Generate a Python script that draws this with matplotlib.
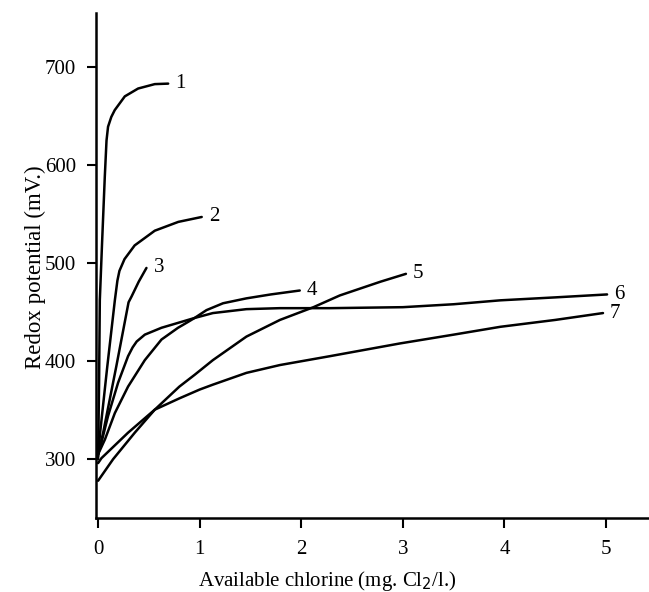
import matplotlib
matplotlib.use("Agg")
import matplotlib.pyplot as plt

plt.rcParams['font.family'] = ['Liberation Serif', 'DejaVu Serif']

# curves: available chlorine (mg Cl2/l) vs redox potential (mV)
x1 = [0, 0.01, 0.017, 0.039, 0.066, 0.083, 0.098, 0.13, 0.164, 0.263, 0.394, 0.558, 0.69]
y1 = [300, 380, 462, 520, 588, 625, 639, 649, 656, 670, 678, 682.5, 683]

x2 = [0, 0.02, 0.09, 0.165, 0.19, 0.21, 0.26, 0.36, 0.558, 0.79, 1.02]
y2 = [303, 327, 394, 462, 482, 492, 504, 518, 533, 542, 547]

x3 = [0, 0.05, 0.18, 0.3, 0.33, 0.40, 0.476]
y3 = [305, 327, 395, 460, 466, 481, 495]

x4 = [0, 0.067, 0.165, 0.295, 0.46, 0.624, 0.787, 0.886, 0.95, 1.067, 1.23, 1.46, 1.7, 1.985]
y4 = [305, 320, 347, 374, 401, 422, 434, 440, 444, 452, 459, 464, 468, 472]

x5 = [0, 0.148, 0.361, 0.558, 0.80, 0.95, 1.13, 1.46, 1.79, 2.12, 2.38, 2.78, 3.03]
y5 = [278, 300, 327, 350.5, 374, 386, 401, 425, 442, 455, 467, 481, 489]

x6 = [0, 0.033, 0.098, 0.197, 0.295, 0.34, 0.38, 0.46, 0.624, 0.787, 0.95, 1.13, 1.46, 1.79,
      2.28, 3.0, 3.5, 3.96, 4.5, 5.01]
y6 = [305, 317, 344, 378, 405, 414, 420, 427, 434, 439, 444, 449, 453, 454,
      454, 455, 458, 462, 465, 468]

x7 = [0, 0.033, 0.295, 0.558, 0.80, 1.0, 1.13, 1.46, 1.79, 2.28, 2.97, 3.5, 3.96, 4.5, 4.97]
y7 = [296, 301, 327, 350.5, 362, 371, 376, 388, 396, 405, 418, 427, 435, 442, 449]

curves = [(x1, y1), (x2, y2), (x3, y3), (x4, y4), (x5, y5), (x6, y6), (x7, y7)]
curve_labels = ["1", "2", "3", "4", "5", "6", "7"]

xticks = [0, 1, 2, 3, 4, 5]
yticks = [300, 400, 500, 600, 700]

fig = plt.figure(figsize=(6.49, 5.92), dpi=100)
ax = fig.add_axes([0.148, 0.125, 0.85, 0.853])

for (xs, ys), lab in zip(curves, curve_labels):
    ax.plot(xs, ys, color="black", lw=1.8, solid_capstyle="round", solid_joinstyle="round")
    ax.text(xs[-1] + 0.07, ys[-1], lab, fontsize=15, ha="left", va="center")

ax.set_xlim(-0.02, 5.41)
ax.set_ylim(240, 755)
ax.set_xticks(xticks)
ax.set_yticks(yticks)
ax.tick_params(direction="out", width=1.5, labelsize=15)
ax.tick_params(axis="x", length=7.2, pad=9)
ax.tick_params(axis="y", length=6.5, pad=8)

for side in ["top", "right"]:
    ax.spines[side].set_visible(False)
for side in ["left", "bottom"]:
    ax.spines[side].set_linewidth(1.8)

ax.set_xlabel("Available chlorine (mg. Cl$_2$/l.)", fontsize=15, va="center")
ax.set_ylabel("Redox potential (mV.)", fontsize=16.5, va="center")
ax.xaxis.set_label_coords(0.42, -0.125)
ax.yaxis.set_label_coords(-0.11, 0.497)

plt.savefig("out.png", dpi=100)
